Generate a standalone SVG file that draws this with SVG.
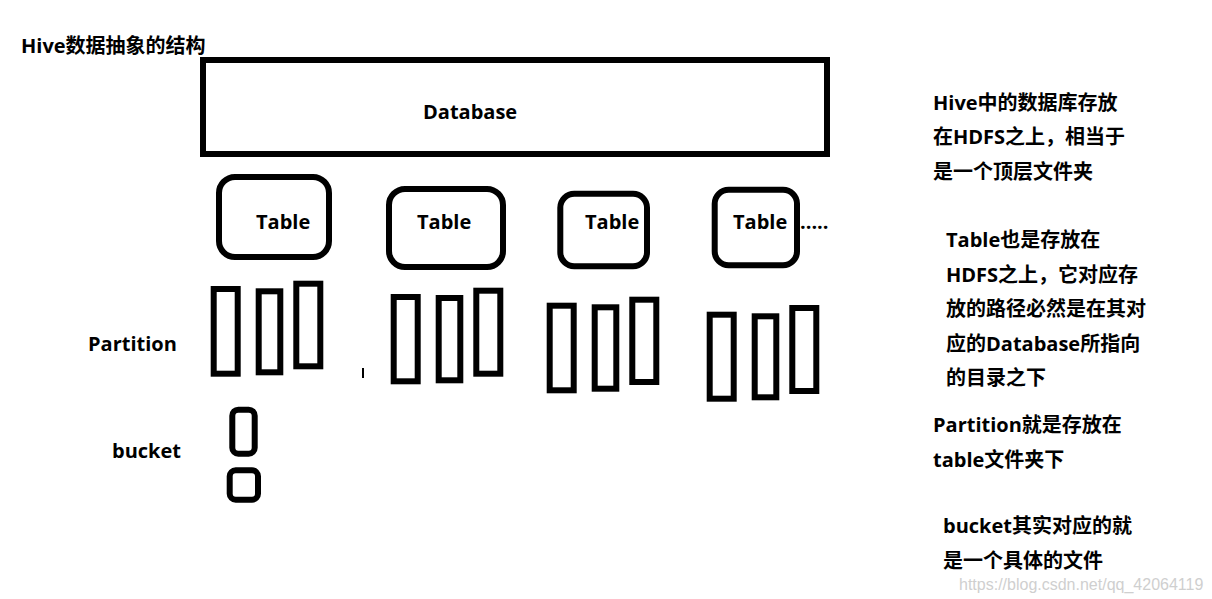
<svg xmlns="http://www.w3.org/2000/svg" width="1212" height="599" viewBox="0 0 1212 599">
<style>
  .t { font-family: "Open Sans", "Noto Sans CJK SC", sans-serif; font-weight: bold; font-size: 20px; fill: #000; }
  .box { fill: none; stroke: #000; stroke-width: 6; }
  .wm { font-family: "Liberation Sans", Arial, sans-serif; font-size: 16px; fill: #cfcfcf; }
</style>
<rect width="1212" height="599" fill="#fff"/>

<text class="t" x="21" y="53">Hive数据抽象的结构</text>

<g id="database">
  <rect class="box" x="203" y="60" width="624" height="94"/>
  <text class="t" x="423" y="119">Database</text>
</g>

<g id="table1">
  <rect class="box" x="219" y="177" width="110" height="80" rx="16"/>
  <text class="t" x="256" y="229">Table</text>
</g>
<g id="table2">
  <rect class="box" x="389" y="189" width="114" height="78" rx="16"/>
  <text class="t" x="417" y="229">Table</text>
</g>
<g id="table3">
  <rect class="box" x="560.3" y="193.7" width="86.7" height="72.6" rx="14"/>
  <text class="t" x="585" y="229">Table</text>
</g>
<g id="table4">
  <rect class="box" x="714.7" y="189.7" width="82.3" height="75.6" rx="14"/>
  <text class="t" x="733" y="229">Table</text>
  <text class="t" x="800" y="229">.....</text>
</g>

<g id="partition-label">
  <text class="t" x="88" y="351">Partition</text>
</g>
<g id="partitions1">
  <rect class="box" x="213.7" y="289" width="24" height="84.7"/>
  <rect class="box" x="258.7" y="291.3" width="21.6" height="81"/>
  <rect class="box" x="296.3" y="283.7" width="24" height="82.6"/>
</g>
<rect x="362" y="368" width="2" height="10" fill="#000"/>
<g id="partitions2">
  <rect class="box" x="393.7" y="297" width="24" height="84.3"/>
  <rect class="box" x="438.7" y="298" width="21.6" height="82.3"/>
  <rect class="box" x="476.3" y="290.7" width="24" height="83"/>
</g>
<g id="partitions3">
  <rect class="box" x="549.7" y="305.7" width="24" height="84.6"/>
  <rect class="box" x="594.7" y="307.3" width="21.6" height="81.4"/>
  <rect class="box" x="632.3" y="299.7" width="24" height="82.3"/>
</g>
<g id="partitions4">
  <rect class="box" x="709.7" y="314.7" width="24" height="84"/>
  <rect class="box" x="754.7" y="316.3" width="21.6" height="81"/>
  <rect class="box" x="792.3" y="308" width="24" height="83"/>
</g>

<g id="bucket-label">
  <text class="t" x="112" y="458">bucket</text>
</g>
<g id="buckets">
  <rect class="box" x="232.3" y="409.7" width="22.4" height="44" rx="6"/>
  <rect class="box" x="229.7" y="470.3" width="28.3" height="29.4" rx="6"/>
</g>

<g id="notes">
  <text class="t" x="933" y="110">Hive中的数据库存放</text>
  <text class="t" x="933" y="144">在HDFS之上，相当于</text>
  <text class="t" x="933" y="179">是一个顶层文件夹</text>

  <text class="t" x="946" y="247">Table也是存放在</text>
  <text class="t" x="946" y="282">HDFS之上，它对应存</text>
  <text class="t" x="946" y="316">放的路径必然是在其对</text>
  <text class="t" x="946" y="351">应的Database所指向</text>
  <text class="t" x="946" y="385">的目录之下</text>

  <text class="t" x="933" y="432">Partition就是存放在</text>
  <text class="t" x="933" y="467">table文件夹下</text>

  <text class="t" x="943" y="533">bucket其实对应的就</text>
  <text class="t" x="943" y="568">是一个具体的文件</text>
</g>

<text class="wm" x="959" y="590">https://blog.csdn.net/qq_42064119</text>
</svg>
